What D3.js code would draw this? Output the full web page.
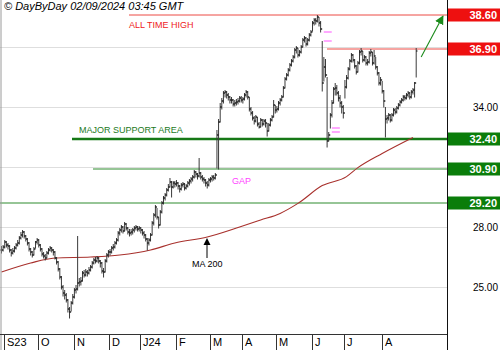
<!DOCTYPE html>
<html>
<head>
<meta charset="utf-8">
<script src="https://cdn.jsdelivr.net/npm/d3@7"></script>
<style>
  html, body { margin: 0; padding: 0; background: #fff; }
  svg { display: block; font-family: Arial, "Liberation Sans", sans-serif; }
</style>
</head>
<body>
<svg id="chart" width="500" height="350"></svg>
<script>
// Daily bars, 30 Aug 2023 .. 30 Aug 2024
const closes = [
  26.85,27.0,27.25,27.1,27.05,26.85,26.7,26.8,26.95,27.1,
  27.2,27.45,27.6,27.75,27.55,27.4,27.2,26.9,26.75,26.6,
  26.9,27.25,27.35,27.1,26.9,26.65,26.55,26.45,26.7,26.85,
  26.95,26.85,26.75,26.45,26.25,25.9,25.5,25.0,24.7,24.6,
  24.35,23.9,23.75,24.2,24.5,24.85,24.9,25.2,25.25,25.3,
  25.7,25.6,25.75,25.7,25.85,26.0,26.2,26.35,26.3,26.45,
  26.3,26.2,25.8,25.75,26.3,26.6,26.75,26.75,26.95,27.0,
  27.2,27.35,27.7,27.85,28.0,27.8,28.15,27.95,27.75,27.7,
  27.75,27.85,27.95,28.0,27.9,27.95,27.85,27.7,27.6,27.4,
  27.2,27.35,27.6,28.2,28.6,29.0,28.5,28.1,28.75,29.2,
  29.45,29.6,29.85,30.0,30.25,30.0,30.2,30.15,30.2,30.05,
  29.9,30.1,30.15,29.95,30.05,30.2,30.3,30.4,30.5,30.75,
  30.65,30.55,30.7,30.5,30.4,30.35,30.2,30.1,30.35,30.4,
  30.5,30.45,30.6,32.6,33.25,34.0,34.3,34.7,34.75,34.6,
  34.5,34.35,34.35,34.15,34.2,34.25,34.3,34.45,34.35,34.4,
  34.6,34.75,34.5,33.9,33.7,33.45,33.3,33.5,33.15,33.0,
  33.35,33.15,33.3,33.2,32.8,33.1,33.35,33.5,34.1,33.85,
  33.9,34.2,34.35,34.5,34.95,35.4,35.6,35.85,36.1,36.3,
  36.5,36.85,36.95,36.6,36.75,37.0,37.35,37.45,37.15,37.35,
  37.6,37.75,38.2,38.35,38.3,38.5,38.2,37.9,35.2,36.0,
  35.6,32.3,32.6,33.6,34.2,34.9,34.95,34.7,34.45,34.2,
  34.0,33.7,35.0,35.45,35.9,36.3,36.6,36.35,36.05,35.75,
  36.2,36.75,36.8,36.35,36.5,36.2,36.25,36.7,36.75,36.2,
  36.55,36.0,35.7,35.2,35.35,34.8,34.3,33.4,33.45,33.6,
  33.35,33.6,33.85,33.75,33.95,34.1,34.25,34.35,34.5,34.45,
  34.6,34.7,34.5,34.75,34.85,35.2,36.8
];
const highs = [
  27.05,27.1,27.35,27.3,27.2,27.1,26.9,26.95,27.05,27.2,
  27.35,27.55,27.75,27.85,27.8,27.6,27.45,27.25,26.95,26.8,
  27.0,27.3,27.45,27.4,27.15,26.95,26.75,26.65,26.8,26.95,
  27.05,27.0,26.9,26.8,26.5,26.3,25.95,25.55,25.1,24.85,
  24.7,24.4,24.0,24.3,24.65,24.95,25.1,27.55,25.45,25.5,
  25.8,25.85,25.9,25.85,26.0,26.1,26.3,26.45,26.5,26.55,
  26.5,26.35,26.25,25.95,26.4,26.7,26.85,26.9,27.05,27.15,
  27.3,27.45,27.8,27.95,28.1,28.05,28.25,28.2,28.0,27.9,
  27.9,27.95,28.05,28.1,28.05,28.05,28.0,27.9,27.8,27.65,
  27.45,27.45,27.7,28.3,28.7,29.1,28.95,28.5,28.85,29.3,
  29.55,29.7,29.95,30.15,30.45,30.3,30.3,30.3,30.35,30.25,
  30.1,30.2,30.25,30.2,30.15,30.3,30.4,30.5,30.6,30.85,
  30.8,30.7,31.45,30.75,30.6,30.5,30.4,30.3,30.45,30.5,
  30.6,30.6,30.7,32.85,33.4,34.2,34.45,34.8,34.85,34.8,
  34.7,34.55,34.5,34.4,34.35,34.4,34.45,34.55,34.55,34.5,
  34.7,34.85,34.8,34.5,34.0,33.8,33.55,33.6,33.5,33.25,
  33.45,33.4,33.4,33.4,33.2,33.2,33.45,33.6,34.35,34.1,
  34.05,34.3,34.45,34.6,35.05,35.5,35.7,35.95,36.2,36.4,
  36.6,36.95,37.05,36.95,36.85,37.1,37.45,37.55,37.5,37.45,
  37.7,37.85,38.3,38.45,38.45,38.6,38.5,38.3,37.3,36.5,
  36.4,35.5,32.75,33.7,34.35,35.0,35.2,35.1,34.8,34.6,
  34.3,34.1,35.35,35.6,36.0,36.4,36.7,36.65,36.4,36.1,
  36.3,36.85,36.95,36.8,36.6,36.55,36.4,36.8,36.9,36.75,
  36.85,36.5,36.05,35.75,35.5,35.3,34.85,34.0,33.6,33.7,
  33.65,33.7,33.95,33.95,34.05,34.2,34.35,34.45,34.6,34.6,
  34.7,34.8,34.75,34.85,34.95,35.25,36.95
];
const lows = [
  26.7,26.8,26.95,27.0,26.9,26.75,26.55,26.65,26.75,26.9,
  27.05,27.15,27.4,27.5,27.45,27.3,27.1,26.8,26.6,26.5,
  26.6,26.95,27.15,27.0,26.8,26.55,26.45,26.35,26.45,26.65,
  26.8,26.75,26.6,26.4,26.15,25.8,25.4,24.9,24.55,24.4,
  24.25,23.75,23.45,23.8,24.15,24.45,24.7,24.85,25.05,25.1,
  25.3,25.5,25.55,25.55,25.65,25.8,25.95,26.15,26.2,26.25,
  26.2,26.0,25.7,25.5,25.75,26.25,26.5,26.6,26.7,26.85,
  26.95,27.15,27.3,27.6,27.75,27.7,27.8,27.85,27.65,27.55,
  27.6,27.65,27.75,27.85,27.8,27.8,27.7,27.6,27.45,27.3,
  26.85,27.1,27.3,27.6,28.1,28.5,28.4,27.95,28.1,28.7,
  29.15,29.35,29.55,29.8,30.0,29.5,29.95,30.0,30.05,29.9,
  29.75,29.85,30.0,29.85,29.9,30.0,30.1,30.2,30.3,30.45,
  30.5,30.4,30.5,30.4,30.3,30.2,30.05,29.95,30.05,30.25,
  30.3,30.35,30.4,30.95,30.9,33.25,33.9,34.2,34.5,34.45,
  34.35,34.2,34.2,34.05,34.05,34.1,34.15,34.25,34.25,34.2,
  34.35,34.5,34.4,33.8,33.6,33.35,33.15,33.25,33.05,32.95,
  33.0,33.05,33.1,33.0,32.55,32.8,33.05,33.3,33.5,33.7,
  33.75,33.85,34.1,34.3,34.5,34.95,35.35,35.55,35.8,36.05,
  36.25,36.45,36.7,36.5,36.55,36.7,37.0,37.25,37.05,37.1,
  37.3,37.55,37.8,38.1,38.15,38.25,38.05,37.75,34.8,35.3,
  35.5,32.0,32.3,32.95,33.5,34.2,34.6,34.6,34.3,34.0,
  33.7,33.45,34.45,34.95,35.4,35.85,36.25,36.25,35.95,35.65,
  35.75,36.15,36.6,36.25,36.3,36.1,36.1,36.2,36.55,36.1,
  36.15,35.9,35.6,35.1,35.1,34.7,34.0,32.5,33.2,33.35,
  33.25,33.3,33.55,33.65,33.7,33.9,34.05,34.2,34.3,34.35,
  34.4,34.5,34.4,34.45,34.65,34.5,35.5
];

// 200-day moving average, sampled at bar indices
const maBars   = [0, 18, 33, 55, 73, 92, 107, 127, 147, 160, 172, 183, 198, 213, 220, 235, 254];
const maValues = [25.75, 26.2, 26.45, 26.5, 26.6, 26.85, 27.2, 27.5, 28.0, 28.35, 28.68, 29.18, 30.07, 30.52, 30.97, 31.68, 32.48];

// Month axis: first bar of each month and its label
const monthStarts = [2, 23, 45, 67, 86, 108, 129, 149, 170, 192, 212, 235];
const monthLabels = ["S23", "O", "N", "D", "J24", "F", "M", "A", "M", "J", "J", "A"];

// Price grid, and the grid prices that carry a label
const gridTicks  = [37, 34, 31, 28, 25];
const labelTicks = [34, 28, 25];

// Key levels
const levelValues = [38.6, 36.9, 32.4, 30.9, 29.2];
const levelKinds  = ["resistance", "resistance", "support", "support", "support"];

// Bars opening with a price gap (marked in magenta)
const gapBars = [198, 203];

// ---------------------------------------------------------------
const svg = d3.select("#chart");
const plotRight = 447, plotBottom = 334;
const fmt = d3.format(".2f");

const x = d3.scaleLinear().domain([0, closes.length - 1]).range([1.5, 416.2]);
const y = d3.scaleLinear().domain([22.65, 39.35]).range([plotBottom, 0]);

// background
svg.append("rect").attr("width", 500).attr("height", 350).attr("fill", "#fff");

// horizontal grid
svg.append("g").selectAll("line").data(gridTicks).join("line")
  .attr("x1", 0).attr("x2", plotRight)
  .attr("y1", d => Math.round(y(d)) + 0.5).attr("y2", d => Math.round(y(d)) + 0.5)
  .attr("stroke", "#dedede").attr("stroke-width", 1);

// price labels on the right
const yAxis = d3.axisLeft(y).tickValues(labelTicks).tickSize(0).tickPadding(0).tickFormat(fmt);
const yg = svg.append("g").attr("transform", "translate(498,0)").call(yAxis);
yg.select(".domain").remove();
yg.selectAll("text").attr("font-size", 10).attr("fill", "#000")
  .attr("font-family", "Arial, 'Liberation Sans', sans-serif").attr("dy", "0.35em");

// level lines
const levelStyle = {
  resistance: { box: "#ee1010" },
  support:    { box: "#0a7d0a" }
};
const levelStartX = [129, 327, 72, 93, 0];
const levelWidth  = [1, 1, 2.6, 1.2, 1.2];
const levelColor  = ["#ec4a45", "#ec4a45", "#167816", "#2e8b2e", "#2e8b2e"];

svg.append("g").selectAll("line").data(levelValues).join("line")
  .attr("x1", (d, i) => levelStartX[i]).attr("x2", plotRight)
  .attr("y1", d => y(d)).attr("y2", d => y(d))
  .attr("stroke", (d, i) => levelColor[i])
  .attr("stroke-width", (d, i) => levelWidth[i]);

// moving average
const maLine = d3.line()
  .x(d => x(d[0])).y(d => y(d[1]))
  .curve(d3.curveMonotoneX);
svg.append("path")
  .datum(maBars.map((b, i) => [b, maValues[i]]))
  .attr("d", maLine)
  .attr("fill", "none").attr("stroke", "#a8302c").attr("stroke-width", 1.1);

// OHLC bars
const bars = svg.append("g").attr("stroke-width", 1);
bars.selectAll("line.hl").data(closes).join("line")
  .attr("class", "hl")
  .attr("x1", (d, i) => x(i)).attr("x2", (d, i) => x(i))
  .attr("y1", (d, i) => y(highs[i])).attr("y2", (d, i) => y(lows[i]) + 0.5)
  .attr("stroke", "#3a3a3a");
bars.selectAll("line.cl").data(closes).join("line")
  .attr("class", "cl")
  .attr("x1", (d, i) => x(i)).attr("x2", (d, i) => x(i) + 1.3)
  .attr("y1", d => y(d)).attr("y2", d => y(d))
  .attr("stroke", "#000");
bars.selectAll("line.op").data(closes).join("line")
  .attr("class", "op")
  .attr("x1", (d, i) => x(i) - 1.3).attr("x2", (d, i) => x(i))
  .attr("y1", (d, i) => y(i > 0 ? closes[i - 1] : d)).attr("y2", (d, i) => y(i > 0 ? closes[i - 1] : d))
  .attr("stroke", "#222");

// gap markers
const gapEdges = gapBars.map(b => highs[b] < lows[b - 1]
  ? [lows[b - 1], highs[b]]
  : [lows[b], highs[b - 1]]);
const gapG = svg.append("g").attr("stroke", "#ff70ff").attr("stroke-width", 1.2);
gapBars.forEach((b, k) => {
  gapEdges[k].forEach(v => {
    gapG.append("line")
      .attr("x1", x(b) + 1.5).attr("x2", x(b) + 9.5)
      .attr("y1", y(v)).attr("y2", y(v));
  });
});

// annotations
svg.append("text").attr("x", 129).attr("y", 28)
  .attr("font-size", 9).attr("fill", "#ee2222").text("ALL TIME HIGH");
svg.append("text").attr("x", 79).attr("y", 133)
  .attr("font-size", 9).attr("fill", "#1c7a1c").text("MAJOR SUPPORT AREA");
svg.append("text").attr("x", 232).attr("y", 184)
  .attr("font-size", 9).attr("fill", "#ff44ff").text("GAP");
svg.append("text").attr("x", 192).attr("y", 267)
  .attr("font-size", 9).attr("fill", "#000").text("MA 200");

// MA 200 pointer
const maTip = y(27.5);
svg.append("path")
  .attr("d", `M207,${maTip + 1} L203.5,${maTip + 8} L210.5,${maTip + 8} Z`)
  .attr("fill", "#000");
svg.append("line").attr("x1", 207).attr("x2", 207)
  .attr("y1", maTip + 8).attr("y2", 258).attr("stroke", "#000").attr("stroke-width", 1);

// target arrow
const arrowFrom = [x(closes.length - 1) + 5, y(36.9) + 8];
const arrowTo = [443, y(38.6) + 1];
svg.append("defs").append("marker")
  .attr("id", "ah").attr("viewBox", "0 0 10 10").attr("refX", 9).attr("refY", 5)
  .attr("markerWidth", 9).attr("markerHeight", 9).attr("markerUnits", "userSpaceOnUse")
  .attr("orient", "auto")
  .append("path").attr("d", "M0,0 L10,5 L0,10 Z").attr("fill", "#1a8a1a");
svg.append("line")
  .attr("x1", arrowFrom[0]).attr("y1", arrowFrom[1])
  .attr("x2", arrowTo[0]).attr("y2", arrowTo[1])
  .attr("stroke", "#1a8a1a").attr("stroke-width", 1.1)
  .attr("marker-end", "url(#ah)");

// level boxes
const boxes = svg.append("g");
levelValues.forEach((v, i) => {
  const yy = y(v);
  boxes.append("rect")
    .attr("x", plotRight + 0.5).attr("y", yy - 6.5)
    .attr("width", 500 - plotRight).attr("height", 13)
    .attr("fill", levelStyle[levelKinds[i]].box);
  boxes.append("text")
    .attr("x", 497).attr("y", yy + 4)
    .attr("text-anchor", "end").attr("font-size", 11).attr("font-weight", "bold")
    .attr("fill", "#fff").text(fmt(v));
});

// frame
svg.append("line").attr("x1", 1).attr("x2", 1).attr("y1", 0).attr("y2", 350)
  .attr("stroke", "#9a9a9a");
svg.append("line").attr("x1", plotRight + 0.5).attr("x2", plotRight + 0.5).attr("y1", 0).attr("y2", 350)
  .attr("stroke", "#111");
svg.append("line").attr("x1", 0).attr("x2", plotRight).attr("y1", plotBottom + 0.5).attr("y2", plotBottom + 0.5)
  .attr("stroke", "#333");

// month axis
const mg = svg.append("g");
monthStarts.forEach((b, i) => {
  const sx = Math.round(x(b) - 0.6) + 0.5;
  mg.append("line").attr("x1", sx).attr("x2", sx).attr("y1", plotBottom).attr("y2", 350)
    .attr("stroke", "#333");
  mg.append("text").attr("x", sx + 2.5).attr("y", 346)
    .attr("font-size", 11).attr("fill", "#000").text(monthLabels[i]);
});

// header
svg.append("text").attr("x", 4).attr("y", 10)
  .attr("font-size", 11).attr("font-style", "italic").attr("fill", "#000")
  .text("© DayByDay 02/09/2024 03:45 GMT");
</script>
</body>
</html>
